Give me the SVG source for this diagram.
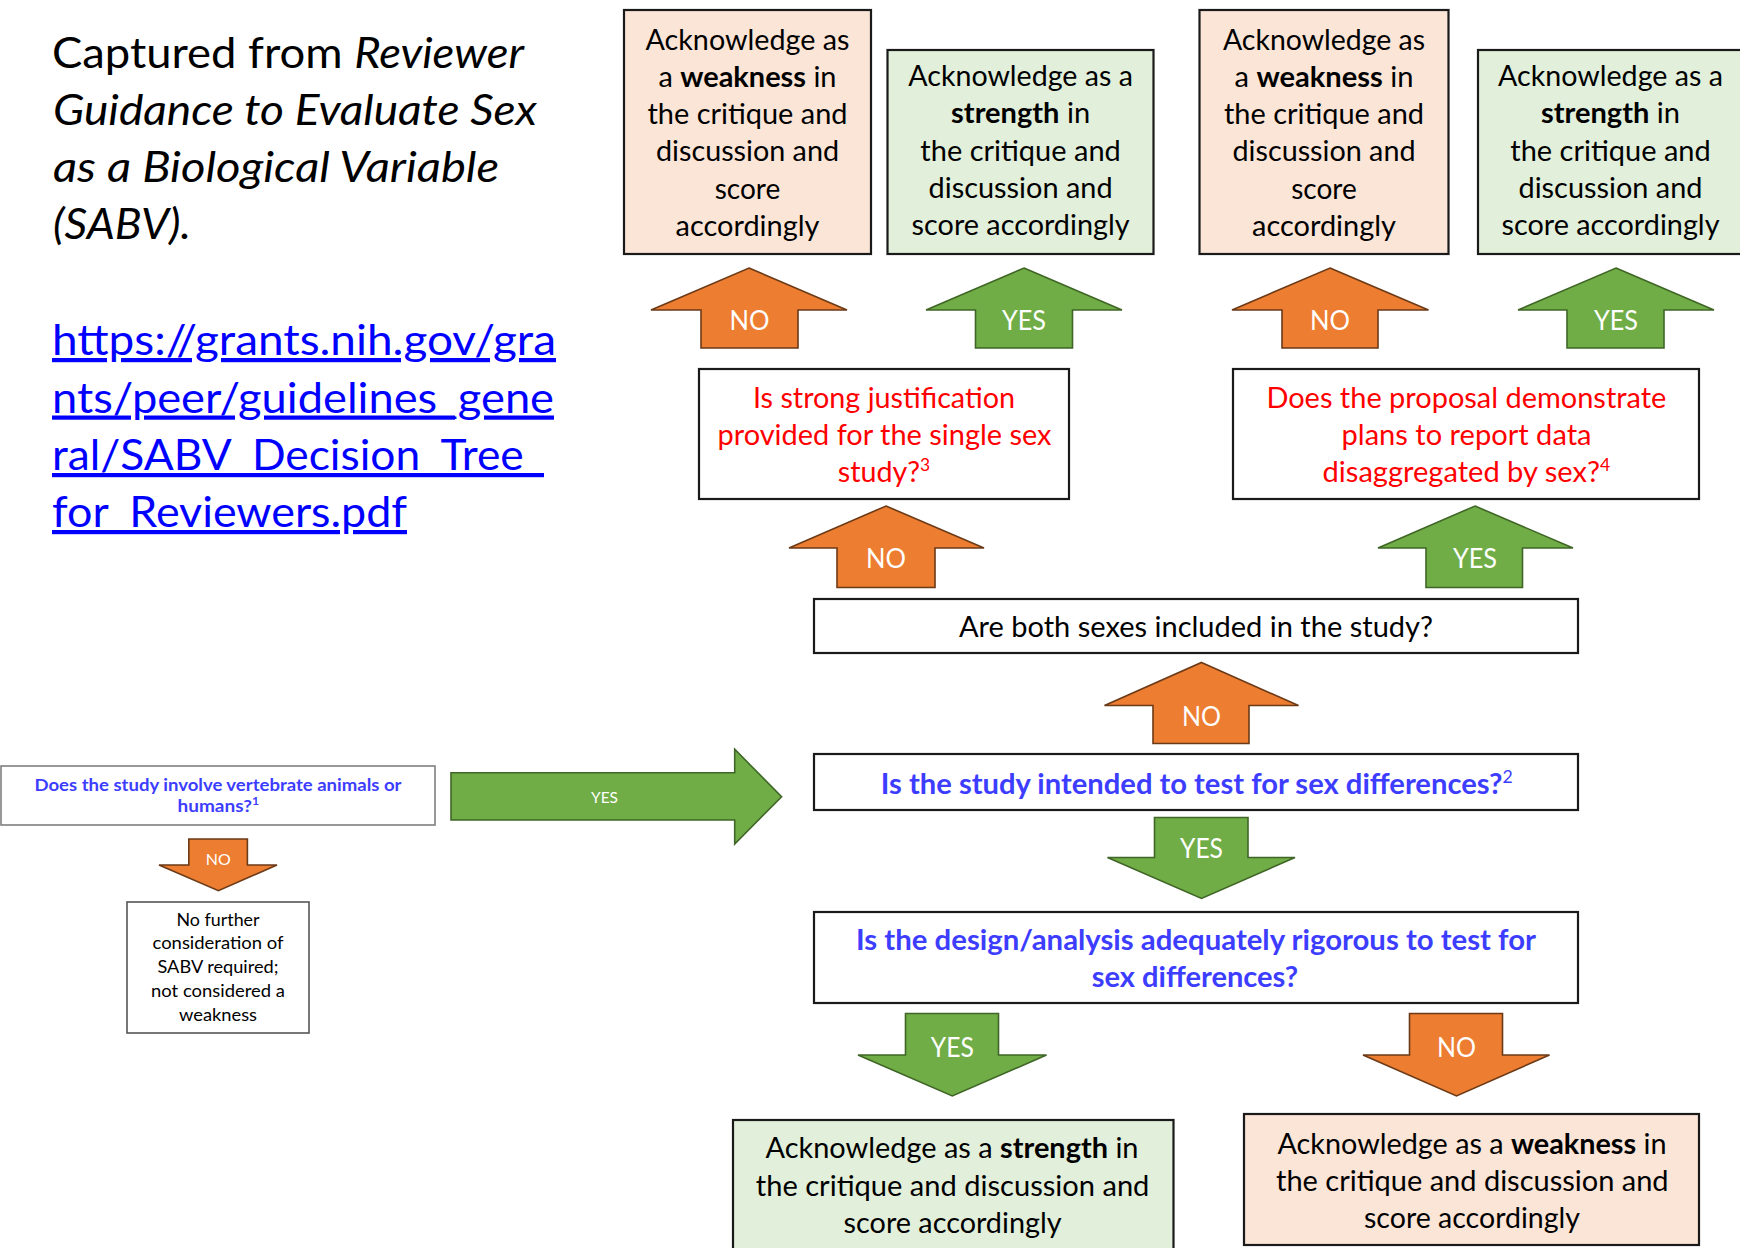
<svg xmlns="http://www.w3.org/2000/svg" width="1740" height="1248" viewBox="0 0 1740 1248">
<style>
text{font-family:Lato,"Liberation Sans",sans-serif;}
.m{font-size:28px;fill:#000;text-anchor:middle;}
.red{font-size:28px;fill:#ff0000;text-anchor:middle;}
.blue{font-size:28px;fill:#3d3dff;font-weight:bold;text-anchor:middle;}
.lab{font-size:27px;fill:#fff;text-anchor:middle;}
.slab{font-size:15px;fill:#fff;text-anchor:middle;}
.title{font-size:42px;fill:#000;}
.link{font-size:42px;fill:#0000ff;text-decoration:underline;}
.small{font-size:17px;fill:#000;text-anchor:middle;}
.sblue{font-size:17px;fill:#3d3dff;font-weight:bold;text-anchor:middle;}
.peach{fill:#fbe5d6;stroke:#1a1a1a;stroke-width:2.2;}
.lgreen{fill:#e2efda;stroke:#1a1a1a;stroke-width:2.2;}
.q{fill:#fff;stroke:#1a1a1a;stroke-width:2.2;}
.qg{fill:#fff;stroke:#7f7f7f;stroke-width:1.6;}
.or{fill:#ed7d31;stroke:#6b3a17;stroke-width:1.6;stroke-linejoin:miter;}
.gr{fill:#70ad47;stroke:#3f6626;stroke-width:1.6;stroke-linejoin:miter;}
b,.b{font-weight:bold;}
</style>

<g id="caption">
<text class="title" x="52" y="67.5" textLength="472" lengthAdjust="spacingAndGlyphs">Captured from <tspan font-style="italic">Reviewer</tspan></text>
<text class="title" x="53" y="124.5" font-style="italic" textLength="484" lengthAdjust="spacingAndGlyphs">Guidance to Evaluate Sex</text>
<text class="title" x="53" y="181.5" font-style="italic" textLength="446" lengthAdjust="spacingAndGlyphs">as a Biological Variable</text>
<text class="title" x="53" y="238.5" font-style="italic" textLength="138" lengthAdjust="spacingAndGlyphs">(SABV).</text>
<text class="link" x="52" y="355" textLength="504" lengthAdjust="spacingAndGlyphs">https://grants.nih.gov/gra</text>
<text class="link" x="52" y="412.5" textLength="502" lengthAdjust="spacingAndGlyphs">nts/peer/guidelines_gene</text>
<text class="link" x="52" y="470" textLength="492" lengthAdjust="spacingAndGlyphs">ral/SABV_Decision_Tree_</text>
<text class="link" x="52" y="527" textLength="355" lengthAdjust="spacingAndGlyphs">for_Reviewers.pdf</text>
</g>

<g id="connectors">
<g id="arrow-no-q3-weak">
<polygon class="or" points="749,268 847,310 798,310 798,348 701,348 701,310 651,310"/>
<text class="lab" x="749.5" y="329.5" textLength="40" lengthAdjust="spacingAndGlyphs">NO</text>
</g>
<g id="arrow-yes-q3-strength">
<polygon class="gr" points="1024,268 1122,310 1072.5,310 1072.5,348 975.5,348 975.5,310 926,310"/>
<text class="lab" x="1024" y="329.5" textLength="44" lengthAdjust="spacingAndGlyphs">YES</text>
</g>
<g id="arrow-no-q4-weak">
<polygon class="or" points="1330,268 1428.5,310 1378,310 1378,348 1282,348 1282,310 1232,310"/>
<text class="lab" x="1330" y="329.5" textLength="40" lengthAdjust="spacingAndGlyphs">NO</text>
</g>
<g id="arrow-yes-q4-strength">
<polygon class="gr" points="1616,268 1714,310 1664,310 1664,348 1567,348 1567,310 1518,310"/>
<text class="lab" x="1616" y="329.5" textLength="44" lengthAdjust="spacingAndGlyphs">YES</text>
</g>
<g id="arrow-no-q2-q3">
<polygon class="or" points="886,506 984,548 935,548 935,587.5 837,587.5 837,548 789,548"/>
<text class="lab" x="886" y="567.5" textLength="40" lengthAdjust="spacingAndGlyphs">NO</text>
</g>
<g id="arrow-yes-q2-q4">
<polygon class="gr" points="1475,506 1573,548 1522.5,548 1522.5,587.5 1426,587.5 1426,548 1378,548"/>
<text class="lab" x="1475" y="567.5" textLength="44" lengthAdjust="spacingAndGlyphs">YES</text>
</g>
<g id="arrow-no-q1b-q2">
<polygon class="or" points="1201.5,662.5 1298.5,705.5 1249,705.5 1249,743.5 1153,743.5 1153,705.5 1104.5,705.5"/>
<text class="lab" x="1201.5" y="725.5" textLength="39" lengthAdjust="spacingAndGlyphs">NO</text>
</g>
<g id="arrow-yes-q1b-q1c">
<polygon class="gr" points="1154.5,817.5 1248,817.5 1248,857.5 1295,857.5 1201.5,898.5 1107.5,857.5 1154.5,857.5"/>
<text class="lab" x="1201.5" y="858" textLength="43" lengthAdjust="spacingAndGlyphs">YES</text>
</g>
<g id="arrow-yes-q1c-strength">
<polygon class="gr" points="905.5,1013.5 998.5,1013.5 998.5,1055 1046.5,1055 952.3,1096 858,1055 905.5,1055"/>
<text class="lab" x="952.3" y="1056.5" textLength="43" lengthAdjust="spacingAndGlyphs">YES</text>
</g>
<g id="arrow-no-q1c-weak">
<polygon class="or" points="1409.5,1013.5 1502.5,1013.5 1502.5,1055 1549.5,1055 1456.5,1096 1363,1055 1409.5,1055"/>
<text class="lab" x="1456.5" y="1056.5" textLength="39" lengthAdjust="spacingAndGlyphs">NO</text>
</g>
<g id="arrow-yes-q0-q1b">
<polygon class="gr" points="451,772.7 734.7,772.7 734.7,749.3 781.6,796.7 734.7,844 734.7,820 451,820"/>
<text class="slab" x="604.5" y="802.5" textLength="27" lengthAdjust="spacingAndGlyphs">YES</text>
</g>
<g id="arrow-no-q0-end">
<polygon class="or" points="188.8,839 247.4,839 247.4,865 277,865 218.4,890.7 159,865 188.8,865"/>
<text class="slab" x="218.2" y="864.5" textLength="25" lengthAdjust="spacingAndGlyphs">NO</text>
</g>
</g>

<g id="weakness-1">
<rect class="peach" x="624" y="10" width="247" height="244"/>
<text class="m" x="747.5" y="49.7" textLength="204" lengthAdjust="spacingAndGlyphs">Acknowledge as</text>
<text class="m" x="747.5" y="86.9" textLength="178" lengthAdjust="spacingAndGlyphs">a <tspan class="b">weakness</tspan> in</text>
<text class="m" x="747.5" y="124.1" textLength="200" lengthAdjust="spacingAndGlyphs">the critique and</text>
<text class="m" x="747.5" y="161.3" textLength="183" lengthAdjust="spacingAndGlyphs">discussion and</text>
<text class="m" x="747.5" y="198.5" textLength="65.5" lengthAdjust="spacingAndGlyphs">score</text>
<text class="m" x="747.5" y="235.7" textLength="144" lengthAdjust="spacingAndGlyphs">accordingly</text>
</g>

<g id="strength-1">
<rect class="lgreen" x="887.5" y="50" width="266" height="204"/>
<text class="m" x="1020.6" y="86" textLength="224.5" lengthAdjust="spacingAndGlyphs">Acknowledge as a</text>
<text class="m" x="1020.6" y="123.3" textLength="139" lengthAdjust="spacingAndGlyphs"><tspan class="b">strength</tspan> in</text>
<text class="m" x="1020.6" y="160.6" textLength="200.5" lengthAdjust="spacingAndGlyphs">the critique and</text>
<text class="m" x="1020.6" y="197.9" textLength="184" lengthAdjust="spacingAndGlyphs">discussion and</text>
<text class="m" x="1020.6" y="235.2" textLength="218" lengthAdjust="spacingAndGlyphs">score accordingly</text>
</g>

<g id="weakness-2">
<rect class="peach" x="1199.5" y="10" width="249" height="244"/>
<text class="m" x="1324" y="49.7" textLength="202" lengthAdjust="spacingAndGlyphs">Acknowledge as</text>
<text class="m" x="1324" y="86.9" textLength="179" lengthAdjust="spacingAndGlyphs">a <tspan class="b">weakness</tspan> in</text>
<text class="m" x="1324" y="124.1" textLength="200" lengthAdjust="spacingAndGlyphs">the critique and</text>
<text class="m" x="1324" y="161.3" textLength="183" lengthAdjust="spacingAndGlyphs">discussion and</text>
<text class="m" x="1324" y="198.5" textLength="65.5" lengthAdjust="spacingAndGlyphs">score</text>
<text class="m" x="1324" y="235.7" textLength="144" lengthAdjust="spacingAndGlyphs">accordingly</text>
</g>

<g id="strength-2">
<rect class="lgreen" x="1478" y="50" width="266" height="204"/>
<text class="m" x="1610.5" y="86" textLength="225" lengthAdjust="spacingAndGlyphs">Acknowledge as a</text>
<text class="m" x="1610.5" y="123.3" textLength="139" lengthAdjust="spacingAndGlyphs"><tspan class="b">strength</tspan> in</text>
<text class="m" x="1610.5" y="160.6" textLength="200.5" lengthAdjust="spacingAndGlyphs">the critique and</text>
<text class="m" x="1610.5" y="197.9" textLength="184" lengthAdjust="spacingAndGlyphs">discussion and</text>
<text class="m" x="1610.5" y="235.2" textLength="218" lengthAdjust="spacingAndGlyphs">score accordingly</text>
</g>

<g id="q3-justification">
<rect class="q" x="699" y="369" width="370" height="130"/>
<text class="red" x="884" y="407.5" textLength="262" lengthAdjust="spacingAndGlyphs">Is strong justification</text>
<text class="red" x="884.5" y="444.5" textLength="334" lengthAdjust="spacingAndGlyphs">provided for the single sex</text>
<text class="red" x="884" y="482" textLength="92.5" lengthAdjust="spacingAndGlyphs">study?<tspan font-size="17" dy="-11">3</tspan></text>
</g>

<g id="q4-disaggregated">
<rect class="q" x="1233" y="369" width="466" height="130"/>
<text class="red" x="1466.4" y="407.5" textLength="400" lengthAdjust="spacingAndGlyphs">Does the proposal demonstrate</text>
<text class="red" x="1466.5" y="444.5" textLength="250" lengthAdjust="spacingAndGlyphs">plans to report data</text>
<text class="red" x="1466.4" y="482" textLength="287.6" lengthAdjust="spacingAndGlyphs">disaggregated by sex?<tspan font-size="17" dy="-11">4</tspan></text>
</g>

<g id="q2-both-sexes">
<rect class="q" x="814" y="599" width="764" height="54"/>
<text class="m" x="1196" y="636.5" textLength="474" lengthAdjust="spacingAndGlyphs">Are both sexes included in the study?</text>
</g>

<g id="q1b-sex-differences">
<rect class="q" x="814" y="754" width="764" height="56"/>
<text class="blue" x="1196.8" y="794" textLength="632" lengthAdjust="spacingAndGlyphs">Is the study intended to test for sex differences?<tspan font-size="17" dy="-11" font-weight="normal">2</tspan></text>
</g>

<g id="q1c-rigorous">
<rect class="q" x="814" y="912" width="764" height="91"/>
<text class="blue" x="1196" y="950" textLength="680" lengthAdjust="spacingAndGlyphs">Is the design/analysis adequately rigorous to test for</text>
<text class="blue" x="1195" y="986.7" textLength="206.5" lengthAdjust="spacingAndGlyphs">sex differences?</text>
</g>

<g id="strength-3">
<rect class="lgreen" x="733" y="1120" width="440.5" height="140"/>
<text class="m" x="952" y="1157.5" textLength="373" lengthAdjust="spacingAndGlyphs">Acknowledge as a <tspan class="b">strength</tspan> in</text>
<text class="m" x="952.6" y="1196" textLength="393.6" lengthAdjust="spacingAndGlyphs">the critique and discussion and</text>
<text class="m" x="952.6" y="1233" textLength="218" lengthAdjust="spacingAndGlyphs">score accordingly</text>
</g>

<g id="weakness-3">
<rect class="peach" x="1244" y="1114" width="455" height="131"/>
<text class="m" x="1472" y="1153.5" textLength="389" lengthAdjust="spacingAndGlyphs">Acknowledge as a <tspan class="b">weakness</tspan> in</text>
<text class="m" x="1472.3" y="1191" textLength="392.6" lengthAdjust="spacingAndGlyphs">the critique and discussion and</text>
<text class="m" x="1472" y="1228" textLength="216" lengthAdjust="spacingAndGlyphs">score accordingly</text>
</g>

<g id="q0-vertebrate">
<rect class="qg" x="1" y="766" width="434" height="59"/>
<text class="sblue" x="218" y="790.5" textLength="367" lengthAdjust="spacingAndGlyphs">Does the study involve vertebrate animals or</text>
<text class="sblue" x="218.3" y="812" textLength="81.5" lengthAdjust="spacingAndGlyphs">humans?<tspan font-size="11" dy="-7">1</tspan></text>
</g>

<g id="no-further">
<rect class="qg" x="127" y="902" width="182" height="131" style="stroke:#555"/>
<text class="small" x="218" y="925.5" textLength="83" lengthAdjust="spacingAndGlyphs">No further</text>
<text class="small" x="218" y="948.8" textLength="131" lengthAdjust="spacingAndGlyphs">consideration of</text>
<text class="small" x="218" y="973.2" textLength="121" lengthAdjust="spacingAndGlyphs">SABV required;</text>
<text class="small" x="218" y="997.2" textLength="134" lengthAdjust="spacingAndGlyphs">not considered a</text>
<text class="small" x="218" y="1020.5" textLength="78" lengthAdjust="spacingAndGlyphs">weakness</text>
</g>
</svg>
